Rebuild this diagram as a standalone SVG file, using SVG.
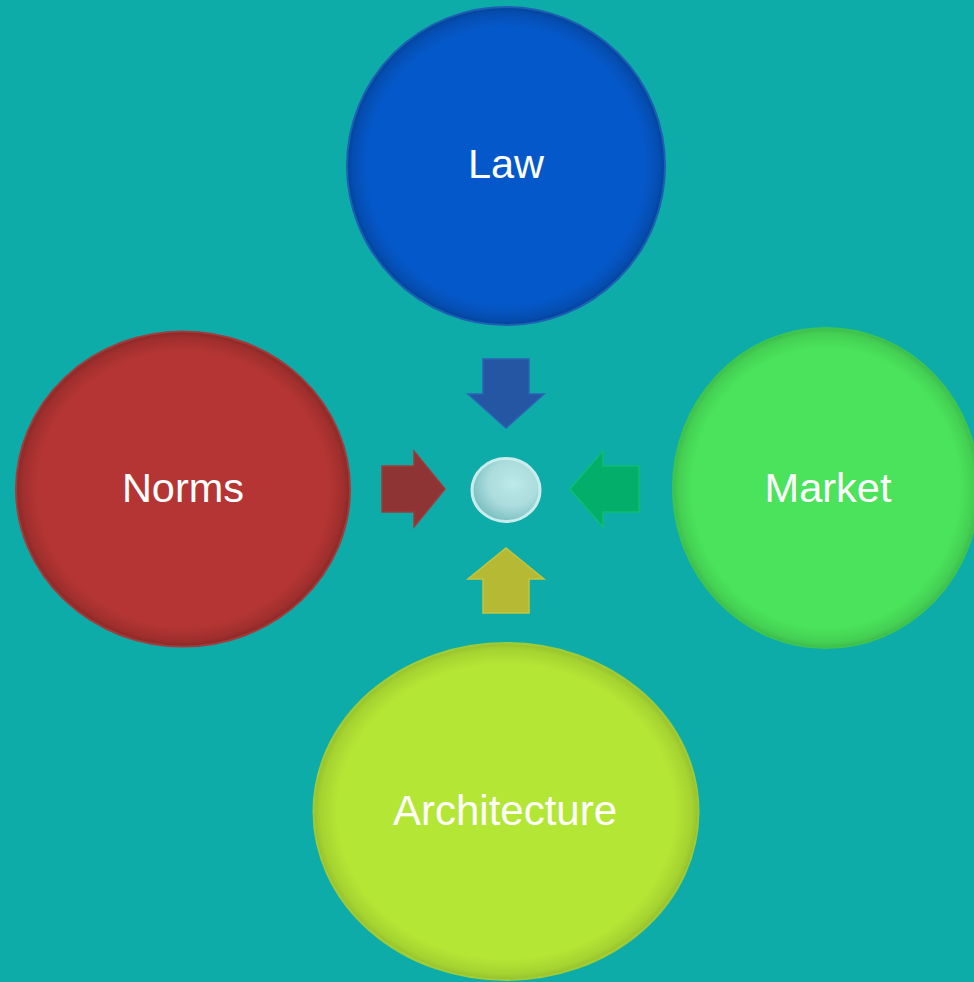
<svg xmlns="http://www.w3.org/2000/svg" width="974" height="982" viewBox="0 0 974 982">
<defs>
<radialGradient id="edge" cx="0.5" cy="0.5" r="0.5">
<stop offset="0.88" stop-color="#000" stop-opacity="0"/>
<stop offset="0.97" stop-color="#000" stop-opacity="0.12"/>
<stop offset="1" stop-color="#000" stop-opacity="0.22"/>
</radialGradient>
<radialGradient id="hub" cx="0.6" cy="0.4" r="0.6">
<stop offset="0" stop-color="#bde9e9"/>
<stop offset="0.6" stop-color="#acdcdd"/>
<stop offset="1" stop-color="#7fc2c4"/>
</radialGradient>
<style>
.lbl{font-family:"Liberation Sans",Arial,sans-serif;font-size:41.5px;fill:#ffffff;text-anchor:middle}
.arr{stroke-width:1.5;stroke-linejoin:miter}
</style>
</defs>
<rect width="974" height="982" fill="#0daca9"/>
<g id="law">
<ellipse cx="506" cy="166" rx="159" ry="159" fill="#0558c9" stroke="#1d5fb4" stroke-width="2"/>
<ellipse cx="506" cy="166" rx="158" ry="158" fill="url(#edge)"/>
<text class="lbl" x="506" y="178">Law</text>
</g>
<g id="norms">
<ellipse cx="183" cy="489" rx="167" ry="157.5" fill="#b43533" stroke="#a03c3c" stroke-width="2"/>
<ellipse cx="183" cy="489" rx="166" ry="156.5" fill="url(#edge)"/>
<text class="lbl" x="183" y="502">Norms</text>
</g>
<g id="market">
<ellipse cx="826" cy="488" rx="153" ry="160" fill="#4ae35b" stroke="#3dc452" stroke-width="2"/>
<ellipse cx="826" cy="488" rx="152" ry="159" fill="url(#edge)" opacity="0.7"/>
<text class="lbl" x="828" y="502">Market</text>
</g>
<g id="architecture">
<ellipse cx="506" cy="811.5" rx="192.5" ry="168.5" fill="#b4e635" stroke="#9ccc3a" stroke-width="2"/>
<ellipse cx="506" cy="811.5" rx="191.5" ry="167.5" fill="url(#edge)" opacity="0.7"/>
<text class="lbl" x="505" y="825" style="font-size:42px">Architecture</text>
</g>
<g id="hub-node">
<ellipse cx="506" cy="490" rx="34" ry="31.5" fill="url(#hub)" stroke="#c9eded" stroke-width="3"/>
</g>
<g id="connectors">
<polygon class="arr" points="483,359 529,359 529,394 544,394 506,428 468,394 483,394" fill="#2456a4" stroke="#2c62b4"/>
<polygon class="arr" points="382,466 414,466 414,451 445,489 414,527 414,512 382,512" fill="#8e3435" stroke="#a03a3a"/>
<polygon class="arr" points="639,466 603,466 603,451 570,489 603,527 603,512 639,512" fill="#03ad6a" stroke="#0cbf72"/>
<polygon class="arr" points="483,613 529,613 529,579 544,579 506,548 468,579 483,579" fill="#b6b933" stroke="#c4c63c"/>
</g>
</svg>
